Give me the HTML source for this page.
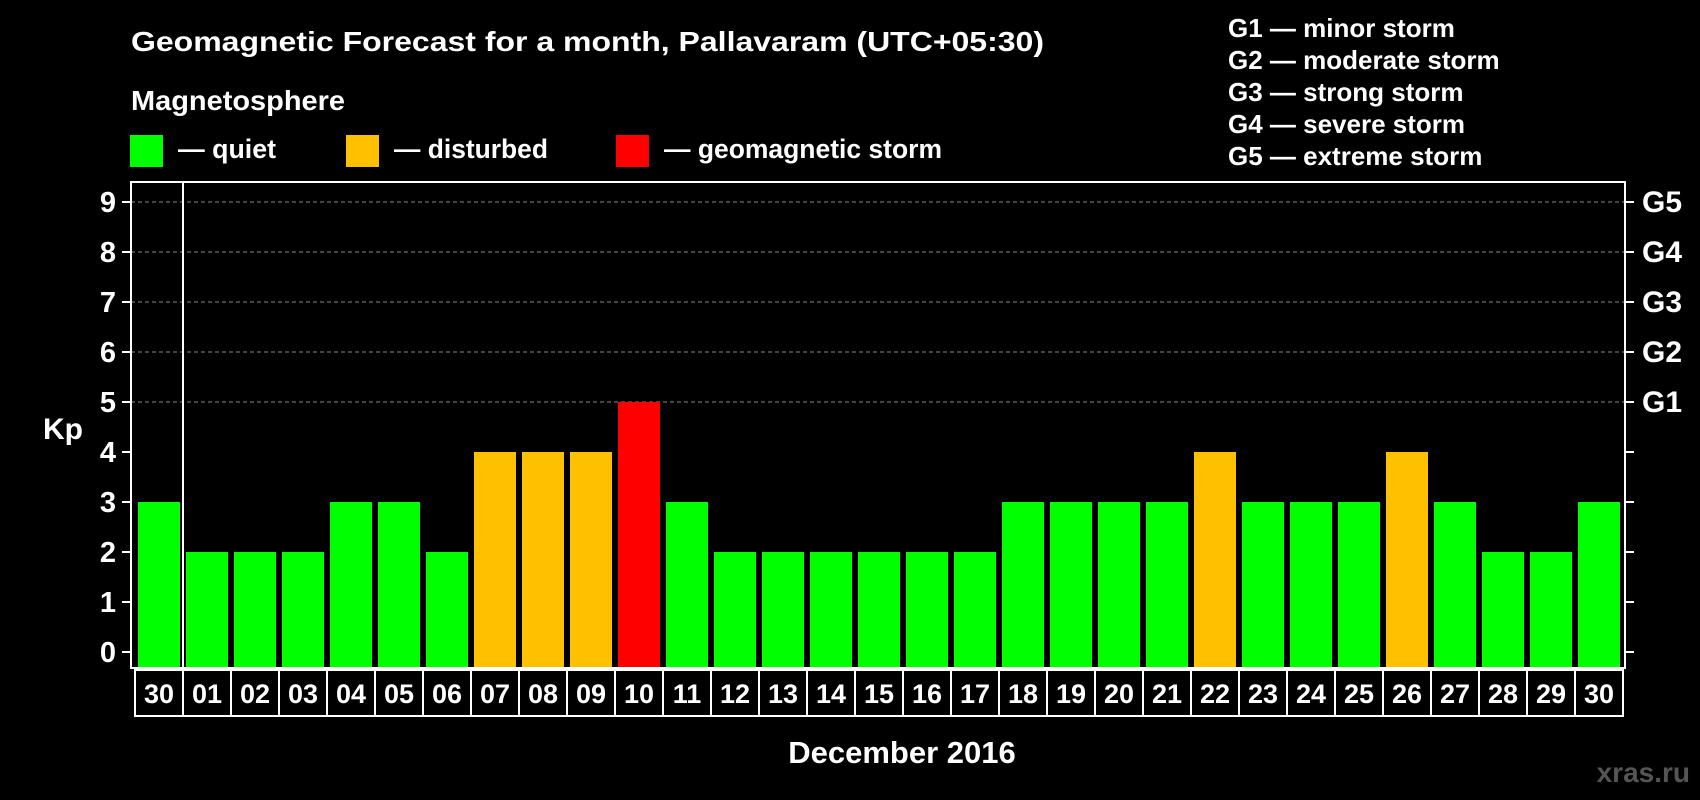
<!DOCTYPE html>
<html><head><meta charset="utf-8"><style>
html,body{margin:0;padding:0;background:#000;}
svg{display:block;font-family:"Liberation Sans",Arial,sans-serif;font-weight:bold;}
</style></head><body>
<svg width="1700" height="800" viewBox="0 0 1700 800" id="chart">
<rect x="0" y="0" width="1700" height="800" fill="#000"/>
<text x="131" y="51" fill="#fff" font-size="28" textLength="913" lengthAdjust="spacingAndGlyphs">Geomagnetic Forecast for a month, Pallavaram (UTC+05:30)</text>
<text x="131" y="110" fill="#fff" font-size="28" textLength="214" lengthAdjust="spacingAndGlyphs">Magnetosphere</text>
<rect x="130" y="135" width="33" height="32" fill="#00ff00"/>
<text x="178" y="158" fill="#fff" font-size="27" textLength="98" lengthAdjust="spacingAndGlyphs">— quiet</text>
<rect x="346" y="135" width="33" height="32" fill="#ffc000"/>
<text x="394" y="158" fill="#fff" font-size="27" textLength="154" lengthAdjust="spacingAndGlyphs">— disturbed</text>
<rect x="616" y="135" width="33" height="32" fill="#ff0000"/>
<text x="664" y="158" fill="#fff" font-size="27" textLength="278" lengthAdjust="spacingAndGlyphs">— geomagnetic storm</text>
<g fill="#fff" font-size="26">
<text x="1228" y="37">G1 — minor storm</text>
<text x="1228" y="69">G2 — moderate storm</text>
<text x="1228" y="101">G3 — strong storm</text>
<text x="1228" y="133">G4 — severe storm</text>
<text x="1228" y="165">G5 — extreme storm</text>
</g>
<text x="43" y="439" fill="#fff" font-size="30">Kp</text>
<text x="902" y="763" fill="#fff" font-size="31" text-anchor="middle">December 2016</text>
<text x="1690" y="782" fill="#555" font-size="28" text-anchor="end">xras.ru</text>
<g id="plot"></g>
</svg>
<script>
const days = ["30","01","02","03","04","05","06","07","08","09","10","11","12","13","14","15","16","17","18","19","20","21","22","23","24","25","26","27","28","29","30"];
const kpValues = [3,2,2,2,3,3,2,4,4,4,5,3,2,2,2,2,2,2,3,3,3,3,4,3,3,3,4,3,2,2,3];
const yTicks = [0,1,2,3,4,5,6,7,8,9];
const gLabels = ["G1","G2","G3","G4","G5"];
const gLevels = [5,6,7,8,9];

const NS="http://www.w3.org/2000/svg";
const plot=document.getElementById('plot');
const L=131,R=1625,T=182,B=668,y0=652,unit=50,x0=135,pitch=48,barW=42;
function y(v){return y0-v*unit;}
function x(i){return x0+i*pitch;}
function mk(tag,attrs){const e=document.createElementNS(NS,tag);for(const k in attrs)e.setAttribute(k,attrs[k]);plot.appendChild(e);return e;}
function color(v){return v>=5?"#ff0000":(v>=4?"#ffc000":"#00ff00");}

gLevels.forEach(function(v){
  const g=mk('line',{x1:L,x2:R,y1:y(v),y2:y(v),stroke:'#888','stroke-width':1,'stroke-dasharray':'4,3'});
  
  
});
kpValues.forEach(function(v,i){
  const r=mk('rect',{x:x(i)+3,y:y(v),width:barW,height:B-y(v),fill:color(v)});
  
  
});
const frame=mk('rect',{x:L,y:T,width:R-L,height:B-T,fill:'none',stroke:'#fff','stroke-width':2});


const sep=mk('line',{x1:183,x2:183,y1:T,y2:B,stroke:'#fff','stroke-width':2});


yTicks.forEach(function(v){
  const t1=mk('line',{x1:122,x2:L,y1:y(v),y2:y(v),stroke:'#fff','stroke-width':2});
  
  
  const t2=mk('line',{x1:R,x2:1634,y1:y(v),y2:y(v),stroke:'#fff','stroke-width':2});
  
  
  const tl=mk('text',{x:116,y:y(v)+10,fill:'#fff','font-size':29,'text-anchor':'end'});
  tl.textContent=v;
  
  
});
gLabels.forEach(function(g,i){
  const t=mk('text',{x:1642,y:y(gLevels[i])+10,fill:'#fff','font-size':30});
  t.textContent=g;
  
  
});
days.forEach(function(d,i){
  const bx=mk('rect',{x:x(i),y:670,width:pitch,height:46,fill:'none',stroke:'#fff','stroke-width':2});
  
  
  const t=mk('text',{x:x(i)+pitch/2,y:703,fill:'#fff','font-size':27,'text-anchor':'middle'});
  t.textContent=d;
  
  
});
</script>
</body></html>
